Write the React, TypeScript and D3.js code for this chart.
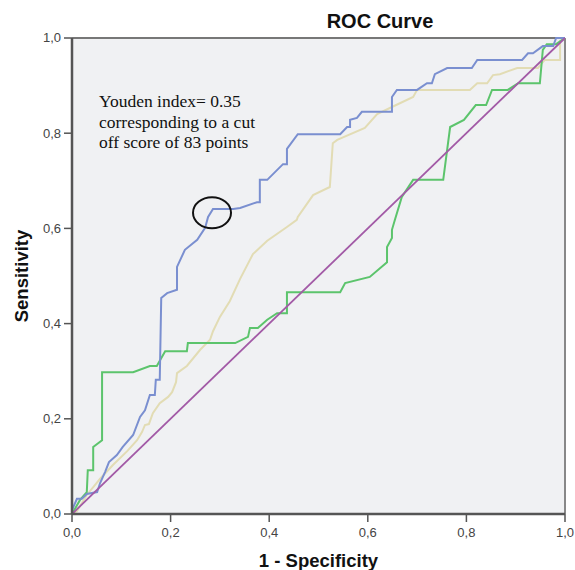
import React from "react"
import { scaleLinear, line, range } from "d3"

type P = [number, number]

// data: [1 - specificity, sensitivity]
const blueCurve: P[] = [
  [0, 0], [0, 0.008], [0.01, 0.032], [0.02, 0.032], [0.03, 0.042], [0.051, 0.046],
  [0.057, 0.065], [0.067, 0.088], [0.075, 0.109], [0.091, 0.124], [0.103, 0.141],
  [0.124, 0.166], [0.138, 0.204], [0.148, 0.218], [0.158, 0.25], [0.168, 0.25],
  [0.17, 0.282], [0.178, 0.282], [0.181, 0.454], [0.193, 0.464], [0.213, 0.471],
  [0.213, 0.519], [0.229, 0.555], [0.254, 0.576], [0.27, 0.601], [0.276, 0.624],
  [0.286, 0.641], [0.327, 0.641], [0.341, 0.643], [0.375, 0.655], [0.381, 0.655],
  [0.381, 0.702], [0.396, 0.702], [0.428, 0.735], [0.436, 0.735], [0.436, 0.767],
  [0.458, 0.798], [0.544, 0.798], [0.558, 0.813], [0.564, 0.813], [0.564, 0.828],
  [0.578, 0.832], [0.588, 0.845], [0.649, 0.845], [0.649, 0.876], [0.659, 0.891],
  [0.7, 0.891], [0.72, 0.905], [0.73, 0.905], [0.736, 0.924], [0.761, 0.937],
  [0.811, 0.937], [0.822, 0.954], [0.913, 0.954], [0.925, 0.968], [0.935, 0.968],
  [0.955, 0.983], [0.976, 0.983], [0.982, 1], [1, 1],
]

const greenCurve: P[] = [
  [0, 0], [0.016, 0.029], [0.03, 0.046], [0.032, 0.092], [0.043, 0.092], [0.043, 0.141],
  [0.061, 0.155], [0.061, 0.298], [0.124, 0.298], [0.158, 0.311], [0.172, 0.311],
  [0.189, 0.342], [0.233, 0.342], [0.235, 0.359], [0.331, 0.359], [0.357, 0.372],
  [0.361, 0.391], [0.377, 0.391], [0.396, 0.408], [0.416, 0.422], [0.436, 0.422],
  [0.436, 0.466], [0.544, 0.466], [0.554, 0.485], [0.604, 0.498], [0.639, 0.529],
  [0.639, 0.561], [0.649, 0.58], [0.649, 0.597], [0.655, 0.618], [0.669, 0.666],
  [0.692, 0.702], [0.753, 0.702], [0.767, 0.813], [0.795, 0.828], [0.819, 0.859],
  [0.84, 0.859], [0.852, 0.891], [0.884, 0.891], [0.905, 0.905], [0.949, 0.905],
  [0.955, 0.975], [0.963, 0.987], [0.982, 0.987], [1, 1],
]

const beigeCurve: P[] = [
  [0, 0], [0.01, 0.006], [0.03, 0.04], [0.057, 0.074], [0.083, 0.103], [0.112, 0.132],
  [0.132, 0.155], [0.142, 0.172], [0.148, 0.187], [0.156, 0.189], [0.164, 0.212],
  [0.178, 0.233], [0.195, 0.246], [0.203, 0.256], [0.211, 0.277], [0.213, 0.296],
  [0.233, 0.311], [0.26, 0.345], [0.28, 0.366], [0.286, 0.384], [0.3, 0.414],
  [0.32, 0.447], [0.341, 0.494], [0.367, 0.546], [0.396, 0.574], [0.436, 0.603],
  [0.456, 0.618], [0.458, 0.624], [0.489, 0.67], [0.523, 0.687], [0.529, 0.779],
  [0.538, 0.786], [0.594, 0.811], [0.619, 0.84], [0.649, 0.855], [0.692, 0.876],
  [0.7, 0.891], [0.807, 0.891], [0.822, 0.905], [0.842, 0.905], [0.854, 0.922],
  [0.868, 0.924], [0.903, 0.937], [0.945, 0.937], [0.959, 0.954], [0.99, 0.954],
  [0.99, 0.994], [1, 1],
]

const referenceLine: P[] = [[0, 0], [1, 1]]

const tickValues = range(0, 1.01, 0.2)
const formatTick = (v: number) => v.toFixed(1).replace(".", ",")

const noteLines = [
  "Youden index=  0.35",
  "corresponding to a cut",
  "off score of 83 points",
]
const youdenPoint: P = [0.284, 0.633]

const App = () => {
  // dimensions
  const width = 575
  const height = 570
  const margins = { top: 38, right: 10, bottom: 56, left: 72 }
  const boundsWidth = 493
  const boundsHeight = 476

  // scales
  const xScale = scaleLinear().domain([0, 1]).range([0, boundsWidth])
  const yScale = scaleLinear().domain([0, 1]).range([boundsHeight, 0])

  const lineGenerator = line<P>()
    .x((d) => xScale(d[0]))
    .y((d) => yScale(d[1]))

  const sans = "'Liberation Sans', Arial, sans-serif"

  return (
    <svg
      width={width}
      height={height}
      style={{ position: "absolute", left: 0, top: 0, background: "#fff" }}
    >
      <text
        x={380}
        y={28}
        textAnchor="middle"
        fontFamily={sans}
        fontWeight="bold"
        fontSize={20}
        fill="#111"
      >
        ROC Curve
      </text>

      <g transform={`translate(${margins.left}, ${margins.top})`}>
        <rect width={boundsWidth} height={boundsHeight} fill="#f0f1f3" />

        {/* frame */}
        <line x1={0} x2={boundsWidth} y1={0} y2={0} stroke="#777" strokeWidth={2} />
        <line x1={boundsWidth} x2={boundsWidth} y1={0} y2={boundsHeight} stroke="#888" strokeWidth={2} />

        {/* curves */}
        <path d={lineGenerator(beigeCurve) ?? ""} fill="none" stroke="#e2dcb4" strokeWidth={2} />
        <path d={lineGenerator(greenCurve) ?? ""} fill="none" stroke="#5cc46c" strokeWidth={2} />
        <path d={lineGenerator(blueCurve) ?? ""} fill="none" stroke="#7a8fd0" strokeWidth={2} />
        <path d={lineGenerator(referenceLine) ?? ""} fill="none" stroke="#a25aa6" strokeWidth={1.8} />

        {/* youden marker */}
        <ellipse
          cx={xScale(youdenPoint[0])}
          cy={yScale(youdenPoint[1])}
          rx={19}
          ry={15.5}
          fill="none"
          stroke="#111"
          strokeWidth={2}
        />
        <text fontFamily="'Liberation Serif', 'Times New Roman', serif" fontSize={17.5} fill="#111">
          {noteLines.map((t, i) => (
            <tspan key={t} x={27} y={69 + i * 20.5}>
              {t}
            </tspan>
          ))}
        </text>

        {/* y axis */}
        <line x1={0} x2={0} y1={0} y2={boundsHeight} stroke="#555" strokeWidth={2.5} />
        {tickValues.map((v) => (
          <g key={`y${v}`} transform={`translate(0, ${yScale(v)})`}>
            <line x1={-8} x2={0} stroke="#555" strokeWidth={1.5} />
            <text
              x={-11}
              dy="0.34em"
              textAnchor="end"
              fontFamily={sans}
              fontSize={13}
              fill="#444"
            >
              {formatTick(v)}
            </text>
          </g>
        ))}

        {/* x axis */}
        <line x1={0} x2={boundsWidth} y1={boundsHeight} y2={boundsHeight} stroke="#555" strokeWidth={2.5} />
        {tickValues.map((v) => (
          <g key={`x${v}`} transform={`translate(${xScale(v)}, ${boundsHeight})`}>
            <line y1={0} y2={8} stroke="#555" strokeWidth={1.5} />
            <text
              y={23}
              textAnchor="middle"
              fontFamily={sans}
              fontSize={13}
              fill="#444"
            >
              {formatTick(v)}
            </text>
          </g>
        ))}

        {/* axis titles */}
        <text
          x={boundsWidth / 2}
          y={boundsHeight + 53}
          textAnchor="middle"
          fontFamily={sans}
          fontWeight="bold"
          fontSize={18.5}
          fill="#111"
        >
          1 - Specificity
        </text>
        <text
          transform={`translate(-44, ${boundsHeight / 2}) rotate(-90)`}
          textAnchor="middle"
          fontFamily={sans}
          fontWeight="bold"
          fontSize={18.5}
          fill="#111"
        >
          Sensitivity
        </text>
      </g>
    </svg>
  )
}

export default App
